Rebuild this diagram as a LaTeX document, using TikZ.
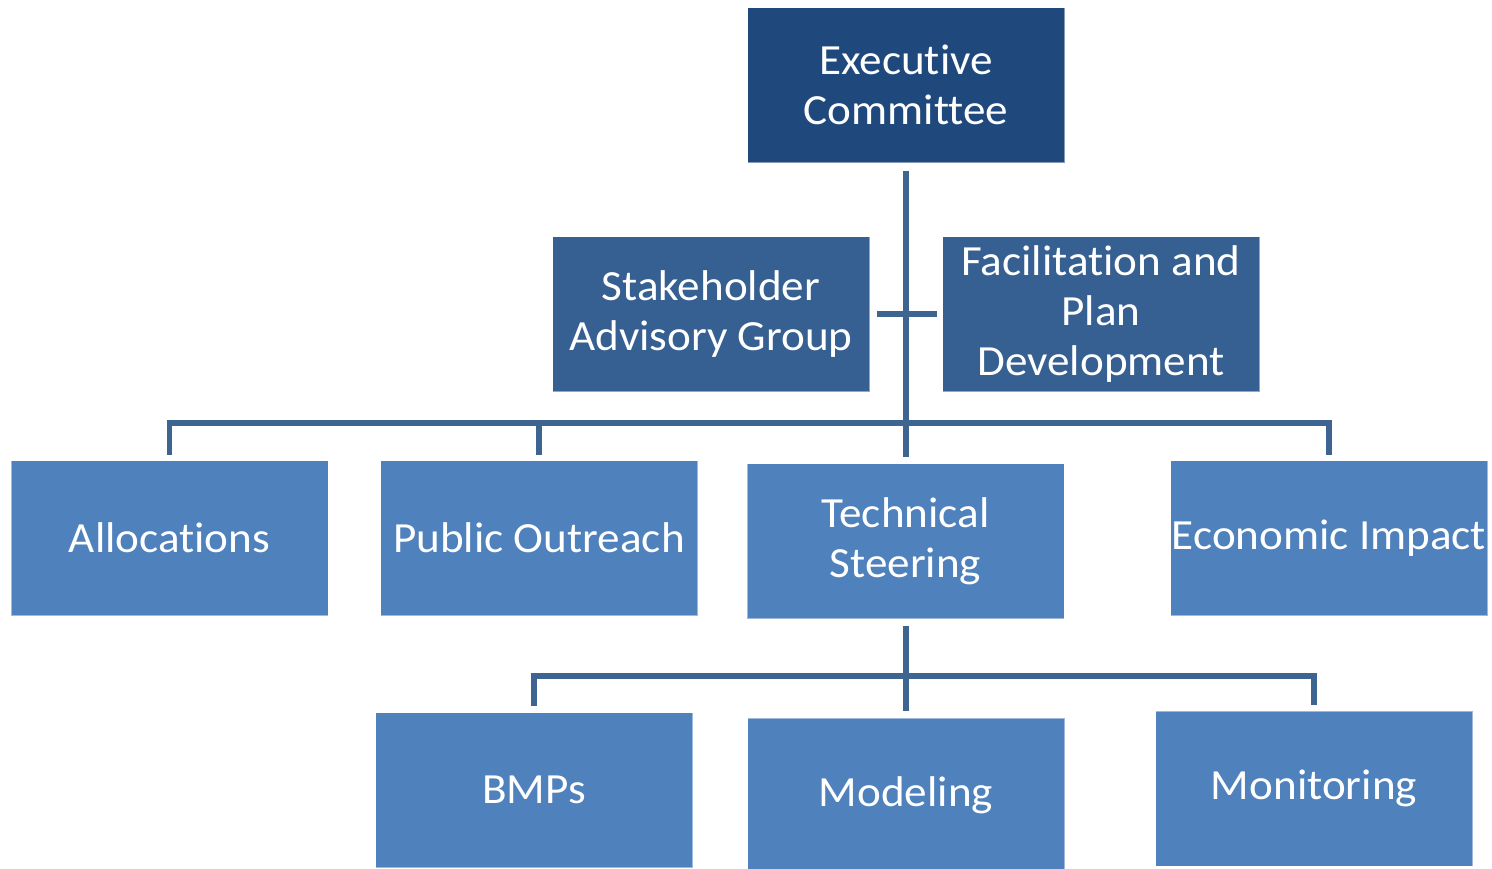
\documentclass[tikz,border=0pt]{standalone}
\usepackage{fontspec}
\setmainfont{Carlito}[Ligatures = NoCommon, FakeStretch = 1.05]
\usepackage{tikz}
\usetikzlibrary{positioning}
\definecolor{execblue}{RGB}{31,73,125}
\definecolor{midblue}{RGB}{55,96,146}
\definecolor{lowblue}{RGB}{79,129,189}
\definecolor{linkblue}{RGB}{62,100,146}
\newcommand{\boxw}{317pt}
\newcommand{\boxh}{155pt}
\newcommand{\labelfont}{\fontsize{43}{50}\selectfont}

\begin{document}
\begin{tikzpicture}[x=1pt, y=-1pt]
                %\draw[help lines] (0,0) grid (1492,868);
                \tikzset{orgbox/.style = {rectangle, minimum width = \boxw, minimum height = \boxh,
                    inner sep = 0pt, outer sep = 0pt, text = white, align = center,
                    font = \labelfont, draw = white, draw opacity = 0.45, line width = 0.8pt}}
                \tikzset{link/.style = {draw = linkblue, line width = 5.5pt}}
                \clip (0,0) rectangle (1492,868);
                \node[orgbox, fill = execblue] (exec) at (906, 85) {Executive\\Committee};
                \node[orgbox, fill = midblue] (stake) at (711, 314) {Stakeholder\\Advisory Group};
                \node[orgbox, fill = midblue] (facil) at (1101, 314) {Facilitation and\\Plan\\Development};
                \node[orgbox, fill = lowblue] (alloc) at (169.5, 538) {Allocations};
                \node[orgbox, fill = lowblue] (pub) at (539, 538) {Public Outreach};
                \node[orgbox, fill = lowblue] (tech) at (905.5, 541) {Technical\\Steering};
                \node[orgbox, fill = lowblue] (econ) at (1329, 538) {Economic Impact};
                \node[orgbox, fill = lowblue] (bmp) at (534, 790) {BMPs};
                \node[orgbox, fill = lowblue] (model) at (906, 795.5) {Modeling};
                \node[orgbox, fill = lowblue] (monit) at (1314, 788.5) {Monitoring};
                \coordinate (bar) at (906, 423);
                \coordinate (subbar) at (906, 676);
                \draw[link, shorten <= 8pt, shorten >= 7pt] (exec.south) -- (exec.south |- tech.north);
                \draw[link, shorten <= 7pt, shorten >= 6pt] (stake.east) -- (facil.west);
                \draw[link, shorten <= 6pt, shorten >= 6pt] (alloc.north) |- (bar) -| (econ.north);
                \draw[link, shorten >= 6pt] (bar -| pub.north) -- (pub.north);
                \draw[link, shorten <= 7pt, shorten >= 7pt] (model.north |- tech.south) -- (model.north);
                \draw[link, shorten <= 7pt, shorten >= 6pt] (bmp.north) |- (subbar) -| (monit.north);
\end{tikzpicture}
\end{document}
